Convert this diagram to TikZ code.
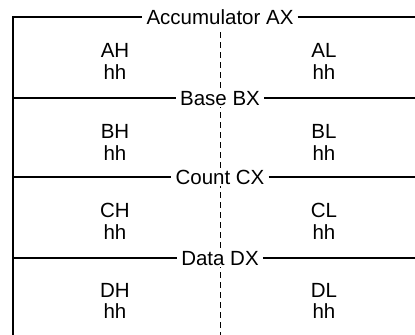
\documentclass[tikz,border=0pt]{standalone}
\usepackage{fontspec}
\setmainfont{Liberation Sans}
\begin{document}
\begin{tikzpicture}[x=1bp,y=-1bp,
  regline/.style={line width=2bp},
  divline/.style={line width=1bp, dash pattern=on 6bp off 4bp},
  lbl/.style={font=\fontsize{20.5bp}{24bp}\selectfont, fill=white, inner xsep=4bp, inner ysep=1bp, anchor=base},
  txt/.style={font=\fontsize{20.5bp}{24bp}\selectfont, inner sep=0pt, anchor=base}]
\useasboundingbox (0,0) rectangle (415,335);
% dashed divider
\coordinate (dtop) at (220,32);
\coordinate (dbot) at (220,335);
\draw[divline] (dtop) -- (dbot);
% left border
\coordinate (lbot) at (13,335);
% section lines
\coordinate (l1) at (13,17);  \coordinate (r1) at (415,17);
\coordinate (l2) at (13,98);  \coordinate (r2) at (415,98);
\coordinate (l3) at (13,177); \coordinate (r3) at (415,177);
\coordinate (l4) at (13,258); \coordinate (r4) at (415,258);
\node[lbl] (t1) at (220,24.3) {Accumulator AX};
\node[lbl] (t2) at (220,105.3) {Base BX};
\node[lbl] (t3) at (220,184.3) {Count CX};
\node[lbl] (t4) at (220,265.3) {Data DX};
\draw[regline] (lbot) -- (l1) -- (t1.west |- l1);
\draw[regline] (t1.east |- r1) -- (r1);
\draw[regline] (l2) -- (t2.west |- l2);
\draw[regline] (t2.east |- r2) -- (r2);
\draw[regline] (l3) -- (t3.west |- l3);
\draw[regline] (t3.east |- r3) -- (r3);
\draw[regline] (l4) -- (t4.west |- l4);
\draw[regline] (t4.east |- r4) -- (r4);
% register halves
\node[txt] (ah) at (115,57.5) {AH};  \node[txt] (ahv) at (115,79.5) {hh};
\node[txt] (al) at (324,57.5) {AL};  \node[txt] (alv) at (324,79.5) {hh};
\node[txt] (bh) at (115,138.5) {BH}; \node[txt] (bhv) at (115,160.5) {hh};
\node[txt] (bl) at (324,138.5) {BL}; \node[txt] (blv) at (324,160.5) {hh};
\node[txt] (ch) at (115,217.5) {CH}; \node[txt] (chv) at (115,239.5) {hh};
\node[txt] (cl) at (324,217.5) {CL}; \node[txt] (clv) at (324,239.5) {hh};
\node[txt] (dh) at (115,297.5) {DH}; \node[txt] (dhv) at (115,318.5) {hh};
\node[txt] (dl) at (324,297.5) {DL}; \node[txt] (dlv) at (324,318.5) {hh};
\end{tikzpicture}
\end{document}
